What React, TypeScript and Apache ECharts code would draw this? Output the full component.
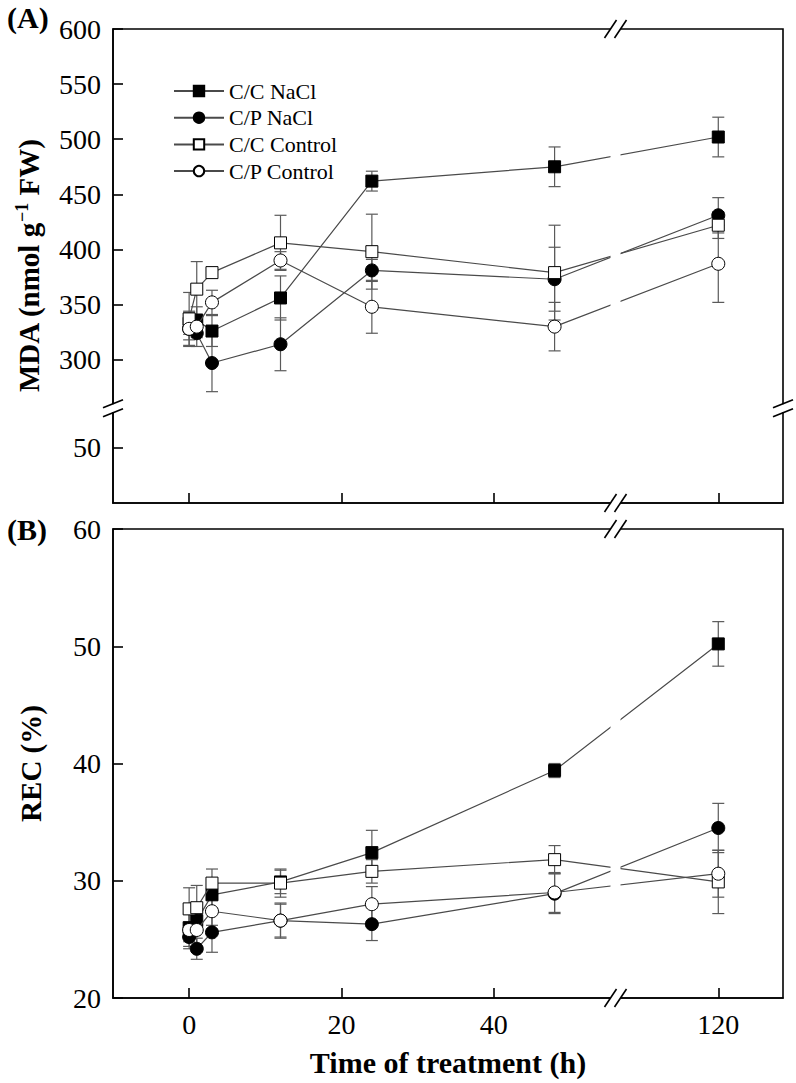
import React, { useEffect, useRef } from 'react';
import * as echarts from 'echarts';

// ---------- data ----------
const times = [0, 1, 3, 12, 24, 48, 120];
const seriesNames = ['C/C NaCl', 'C/P NaCl', 'C/C Control', 'C/P Control'];

// Panel A: MDA (nmol g-1 FW)
const mdaCCNaCl = [333, 336, 326, 356, 462, 475, 502];
const mdaCPNaCl = [328, 324, 297, 314, 381, 373, 431];
const mdaCCControl = [337, 364, 379, 406, 398, 379, 422];
const mdaCPControl = [328, 330, 352, 390, 348, 330, 387];
const mdaErrCCNaCl = [10, 12, 14, 20, 9, 18, 18];
const mdaErrCPNaCl = [10, 12, 26, 24, 10, 29, 16];
const mdaErrCCControl = [24, 25, 4, 25, 34, 43, 12];
const mdaErrCPControl = [16, 10, 11, 8, 24, 22, 35];

// Panel B: REC (%)
const recCCNaCl = [26.0, 26.6, 28.8, 29.9, 32.4, 39.4, 50.2];
const recCPNaCl = [25.2, 24.2, 25.6, 26.6, 26.3, 28.9, 34.5];
const recCCControl = [27.6, 27.7, 29.8, 29.8, 30.8, 31.8, 29.9];
const recCPControl = [25.8, 25.8, 27.4, 26.6, 28.0, 29.0, 30.6];
const recErrCCNaCl = [1.2, 1.0, 1.2, 1.0, 1.9, 0.6, 1.9];
const recErrCPNaCl = [1.0, 0.9, 1.7, 1.5, 1.4, 1.7, 2.1];
const recErrCCControl = [1.8, 1.9, 1.2, 1.2, 1.0, 1.2, 2.7];
const recErrCPControl = [1.4, 1.4, 1.2, 1.4, 1.5, 1.7, 2.0];

// ticks
const xTickValues = [0, 20, 40, 120];
const mdaTickValues = [50, 300, 350, 400, 450, 500, 550, 600];
const recTickValues = [20, 30, 40, 50, 60];

// ---------- broken-axis mapping ----------
const X_BREAK_LO = 56;
const X_BREAK_HI = 106.5;
const xMap = (t: number) => (t <= X_BREAK_LO ? t : t - (X_BREAK_HI - X_BREAK_LO));
const xUnmap = (d: number) => (d <= X_BREAK_LO + 1e-6 ? d : d + (X_BREAK_HI - X_BREAK_LO));
const Y_BREAK_LO = 86;
const Y_BREAK_HI = 256;
const yMap = (v: number) => (v <= Y_BREAK_LO ? v : v - (Y_BREAK_HI - Y_BREAK_LO));
const yUnmap = (d: number) => (d <= Y_BREAK_LO + 1e-6 ? d : d + (Y_BREAK_HI - Y_BREAK_LO));

const FONT = '"Liberation Serif", "Times New Roman", serif';
const LINE_COLOR = '#4a4a4a';
const ERR_COLOR = '#5a5a5a';

const symbols = ['rect', 'circle', 'rect', 'circle'];
const fills = ['#000', '#000', '#fff', '#fff'];
const sizes = [12, 13, 12, 13];

export default function App() {
  const ref = useRef<HTMLDivElement>(null);

  useEffect(() => {
    if (!ref.current) return;
    const chart = echarts.init(ref.current, undefined, { renderer: 'svg' });

    const mdaVals = [mdaCCNaCl, mdaCPNaCl, mdaCCControl, mdaCPControl];
    const mdaErrs = [mdaErrCCNaCl, mdaErrCPNaCl, mdaErrCCControl, mdaErrCPControl];
    const recVals = [recCCNaCl, recCPNaCl, recCCControl, recCPControl];
    const recErrs = [recErrCCNaCl, recErrCPNaCl, recErrCCControl, recErrCPControl];

    const errRender = (params: any, api: any) => {
      const x = api.value(0);
      const lo = api.coord([x, api.value(1)]);
      const hi = api.coord([x, api.value(2)]);
      const w = 6;
      const st = { stroke: ERR_COLOR, lineWidth: 1.2 };
      return {
        type: 'group',
        children: [
          { type: 'line', shape: { x1: lo[0], y1: lo[1], x2: hi[0], y2: hi[1] }, style: st },
          { type: 'line', shape: { x1: lo[0] - w, y1: lo[1], x2: lo[0] + w, y2: lo[1] }, style: st },
          { type: 'line', shape: { x1: hi[0] - w, y1: hi[1], x2: hi[0] + w, y2: hi[1] }, style: st },
        ],
      };
    };

    const series: any[] = [];
    const panels = [
      { vals: mdaVals, errs: mdaErrs, ym: yMap, idx: 0 },
      { vals: recVals, errs: recErrs, ym: (v: number) => v, idx: 1 },
    ];
    panels.forEach((p) => {
      p.vals.forEach((vals, s) => {
        series.push({
          type: 'custom',
          name: 'err' + p.idx + '-' + s,
          xAxisIndex: p.idx,
          yAxisIndex: p.idx,
          renderItem: errRender,
          encode: { x: 0, y: [1, 2] },
          z: 1,
          silent: true,
          data: times.map((t, i) => [xMap(t), p.ym(vals[i] - p.errs[s][i]), p.ym(vals[i] + p.errs[s][i])]),
        });
      });
    });
    panels.forEach((p) => {
      p.vals.forEach((vals, s) => {
        series.push({
          type: 'line',
          name: seriesNames[s],
          xAxisIndex: p.idx,
          yAxisIndex: p.idx,
          symbol: symbols[s],
          symbolSize: sizes[s],
          showAllSymbol: true,
          z: 2 + s,
          lineStyle: { color: LINE_COLOR, width: 1.2 },
          itemStyle: { color: fills[s], borderColor: '#000', borderWidth: 1 },
          emphasis: { disabled: true },
          data: times.map((t, i) => [xMap(t), p.ym(vals[i])]),
        });
      });
    });

    const axisLineStyle = { color: '#000', width: 1.6 };
    const mkX = (i: number) => ({
      type: 'value',
      gridIndex: i,
      min: -10,
      max: 78,
      axisLine: { show: true, onZero: false, lineStyle: axisLineStyle },
      axisTick: {
        show: true,
        inside: true,
        length: 10,
        customValues: xTickValues.map(xMap),
        lineStyle: axisLineStyle,
      },
      axisLabel: {
        show: i === 1,
        customValues: xTickValues.map(xMap),
        formatter: (v: number) => String(Math.round(xUnmap(v))),
        fontSize: 28,
        margin: 12,
        color: '#000',
        fontFamily: FONT,
      },
      splitLine: { show: false },
      name: i === 1 ? 'Time of treatment (h)' : '',
      nameLocation: 'middle',
      nameGap: 49,
      nameTextStyle: { fontSize: 30, fontWeight: 'bold', color: '#000', fontFamily: FONT },
    });

    const option: any = {
      animation: false,
      backgroundColor: '#fff',
      grid: [
        { left: 113, top: 29, width: 670, height: 474, show: true, borderColor: '#000', borderWidth: 1.6 },
        { left: 113, top: 529, width: 670, height: 469, show: true, borderColor: '#000', borderWidth: 1.6 },
      ],
      legend: {
        data: seriesNames,
        orient: 'vertical',
        left: 168,
        top: 75,
        itemWidth: 50,
        itemHeight: 13,
        itemGap: 4.7,
        selectedMode: false,
        textStyle: { fontSize: 22, lineHeight: 22, color: '#000', fontFamily: FONT },
      },
      xAxis: [mkX(0), mkX(1)],
      yAxis: [
        {
          type: 'value',
          gridIndex: 0,
          min: 0,
          max: yMap(600),
          axisLine: { show: true, onZero: false, lineStyle: axisLineStyle },
          axisTick: { show: true, inside: true, length: 10, customValues: mdaTickValues.map(yMap), lineStyle: axisLineStyle },
          axisLabel: {
            customValues: mdaTickValues.map(yMap),
            formatter: (v: number) => String(Math.round(yUnmap(v))),
            fontSize: 28,
            margin: 12,
            color: '#000',
            fontFamily: FONT,
          },
          splitLine: { show: false },
          name: '{t|MDA (nmol g}{s|−1}{t| FW)}',
          nameLocation: 'middle',
          nameGap: 68,
          nameTextStyle: {
            color: '#000',
            fontFamily: FONT,
            rich: {
              t: { fontSize: 29, fontWeight: 'bold', fontFamily: FONT, color: '#000', lineHeight: 32 },
              s: { fontSize: 18, fontWeight: 'bold', fontFamily: FONT, color: '#000', verticalAlign: 'top', lineHeight: 18 },
            },
          },
        },
        {
          type: 'value',
          gridIndex: 1,
          min: 20,
          max: 60,
          axisLine: { show: true, onZero: false, lineStyle: axisLineStyle },
          axisTick: { show: true, inside: true, length: 10, customValues: recTickValues, lineStyle: axisLineStyle },
          axisLabel: {
            customValues: recTickValues,
            fontSize: 28,
            margin: 12,
            color: '#000',
            fontFamily: FONT,
          },
          splitLine: { show: false },
          name: 'REC (%)',
          nameLocation: 'middle',
          nameGap: 68,
          nameTextStyle: { fontSize: 29, fontWeight: 'bold', color: '#000', fontFamily: FONT },
        },
      ],
      series,
    };
    chart.setOption(option);

    // ---- break marks, computed from the axes ----
    const g: any[] = [];
    const white = { fill: '#fff', stroke: null };
    const blk = { stroke: '#000', lineWidth: 1.6 };
    for (let i = 0; i < 2; i++) {
      const bx = chart.convertToPixel({ xAxisIndex: i } as any, X_BREAK_LO) as unknown as number;
      const yTopVal = i === 0 ? yMap(600) : 60;
      const yBotVal = i === 0 ? 0 : 20;
      const top = chart.convertToPixel({ yAxisIndex: i } as any, yTopVal) as unknown as number;
      const bot = chart.convertToPixel({ yAxisIndex: i } as any, yBotVal) as unknown as number;
      g.push({ type: 'rect', z: 100, shape: { x: bx - 5, y: top - 3, width: 10, height: bot - top + 6 }, style: white });
      [top, bot].forEach((yy) => {
        [-5, 5].forEach((dx) => {
          g.push({
            type: 'line',
            z: 101,
            shape: { x1: bx + dx - 6, y1: yy + 9, x2: bx + dx + 6, y2: yy - 9 },
            style: blk,
          });
        });
      });
    }
    // y break on panel A
    const byA = chart.convertToPixel({ yAxisIndex: 0 } as any, Y_BREAK_LO) as unknown as number;
    const lx = chart.convertToPixel({ xAxisIndex: 0 } as any, -10) as unknown as number;
    const rx = chart.convertToPixel({ xAxisIndex: 0 } as any, 78) as unknown as number;
    [lx, rx].forEach((ax) => {
      g.push({ type: 'rect', z: 100, shape: { x: ax - 4, y: byA - 4, width: 8, height: 8 }, style: white });
      [-4.5, 4.5].forEach((dy) => {
        g.push({
          type: 'line',
          z: 101,
          shape: { x1: ax - 10, y1: byA + dy + 4, x2: ax + 10, y2: byA + dy - 4 },
          style: blk,
        });
      });
    });
    // panel labels
    g.push({ type: 'text', z: 101, x: 7, y: 2, style: { text: '(A)', font: 'bold 30px ' + FONT, fill: '#000' } });
    g.push({ type: 'text', z: 101, x: 7, y: 514, style: { text: '(B)', font: 'bold 30px ' + FONT, fill: '#000' } });
    chart.setOption({ graphic: g });

    return () => chart.dispose();
  }, []);

  return <div ref={ref} style={{ position: 'absolute', left: 0, top: 0, width: 796, height: 1083 }} />;
}
